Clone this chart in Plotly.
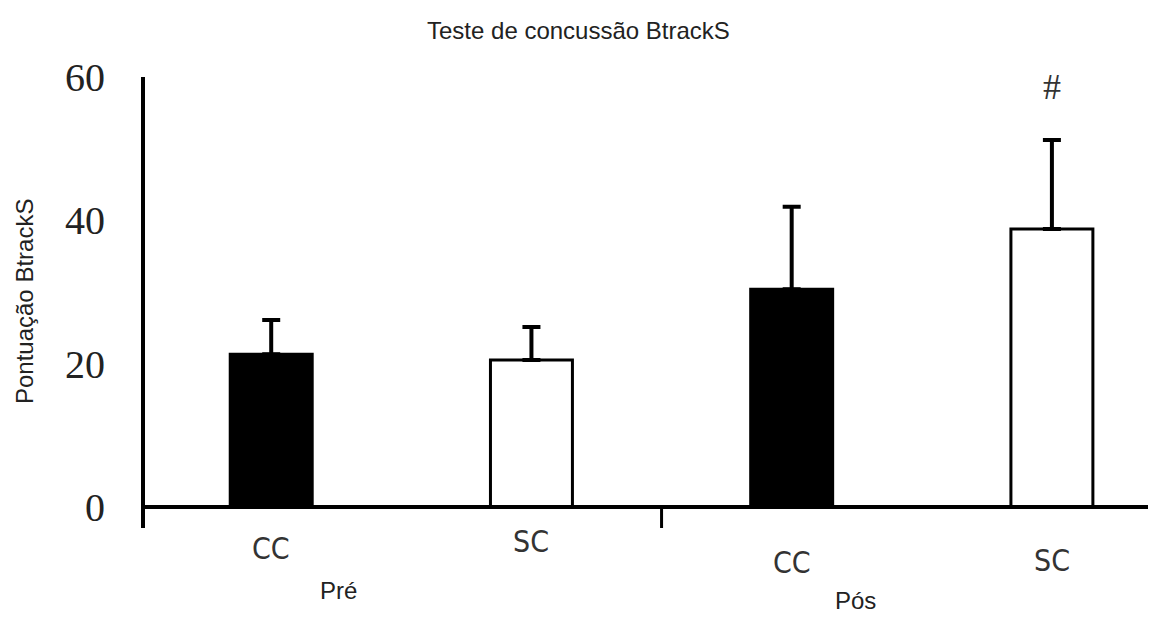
import plotly.graph_objects as go

categories = ["CC", "SC", "CC", "SC"]
groups = ["Pré", "Pós"]
means = [21.3, 20.5, 30.4, 38.8]
err_top = [26.1, 25.1, 41.9, 51.2]
fill_colors = ["black", "white", "black", "white"]
y_ticks = [0, 20, 40, 60]
signif = ["", "", "", "#"]

xpos = list(range(len(categories)))
errs = [t - m for t, m in zip(err_top, means)]

fig = go.Figure()
fig.add_trace(go.Bar(
    x=xpos, y=means, width=0.315,
    marker=dict(color=fill_colors, line=dict(color="black", width=3)),
    error_y=dict(type="data", array=errs, arrayminus=[0] * len(errs),
                 symmetric=False, color="black", thickness=4, width=9),
    showlegend=False, hoverinfo="skip",
))

# category labels (slightly staggered as in the reference)
label_dy = [-41, -34, -55, -53]
for x, lab, dy in zip(xpos, categories, label_dy):
    fig.add_annotation(x=x, y=0, yref="y", xref="x", text=lab, showarrow=False,
                       yshift=dy, font=dict(family="Liberation Sans Narrow, DejaVu Sans Condensed, sans-serif",
                                            size=30, color="#333"))

# group labels
fig.add_annotation(x=0.258, xref="x", y=-0.1375, yref="paper", text=groups[0], showarrow=False,
                   yanchor="middle", font=dict(family="Liberation Sans", size=24, color="#222"))
fig.add_annotation(x=2.246, xref="x", y=-0.16, yref="paper", text=groups[1], showarrow=False,
                   yanchor="middle", font=dict(family="Liberation Sans", size=24, color="#222"))

# significance marker
for x, s, t in zip(xpos, signif, err_top):
    if s:
        fig.add_annotation(x=x, y=t, xref="x", yref="y", text=s, showarrow=False,
                           yshift=53, font=dict(family="Liberation Serif", size=36, color="#333"))

# title and y-axis title
fig.add_annotation(x=0.4283, xref="paper", y=1, yref="paper", yshift=47, yanchor="middle",
                   text="Teste de concussão BtrackS", showarrow=False,
                   font=dict(family="Liberation Sans", size=24, color="#222"))
fig.add_annotation(x=0, xref="paper", xshift=-121, y=0.501, yref="paper", textangle=-90,
                   text="Pontuação BtrackS", showarrow=False, xanchor="center", yanchor="middle",
                   font=dict(family="Liberation Sans", size=24, color="#222"))

# x-axis baseline and group divider
fig.add_shape(type="line", xref="paper", yref="y", x0=0, x1=1, y0=0, y1=0,
              line=dict(color="black", width=4))
fig.add_shape(type="line", xref="x", yref="y", x0=1.5, x1=1.5, y0=0, y1=-3.2,
              line=dict(color="black", width=3))

fig.update_layout(
    width=1148, height=618,
    margin=dict(l=137, r=0, t=69, b=98, autoexpand=False),
    paper_bgcolor="white", plot_bgcolor="white",
    xaxis=dict(range=[-0.485, 3.40], showticklabels=False, showgrid=False,
               zeroline=False, showline=False, ticks="", automargin=False),
    yaxis=dict(range=[-2.93, 60], tickvals=y_ticks, ticktext=[str(v) for v in y_ticks],
               showgrid=False, zeroline=False, showline=True, linecolor="black",
               linewidth=4, ticks="", ticklen=0, ticklabelstandoff=28, automargin=False,
               tickfont=dict(family="Liberation Serif", size=40, color="#222")),
)

fig.write_html("out.html")
